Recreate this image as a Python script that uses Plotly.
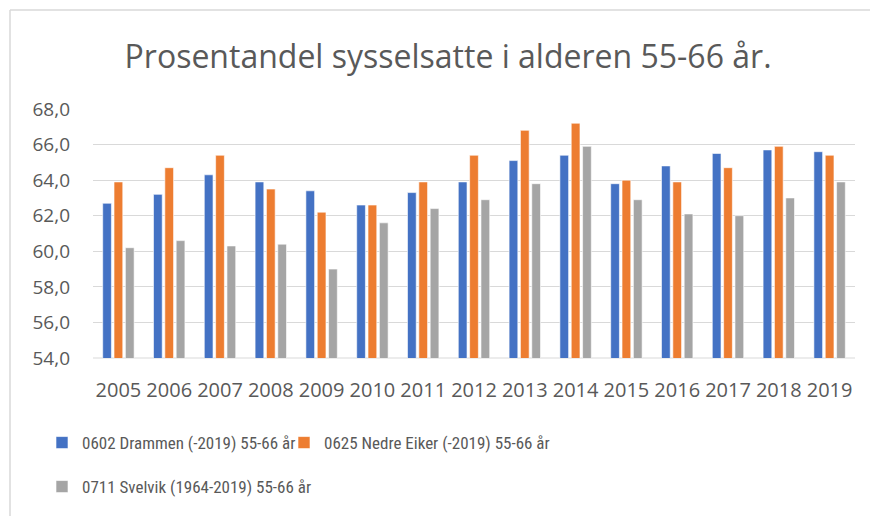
import plotly.graph_objects as go

years = [str(y) for y in range(2005, 2020)]
drammen = [62.7, 63.2, 64.3, 63.9, 63.4, 62.6, 63.3, 63.9, 65.1, 65.4, 63.8, 64.8, 65.5, 65.7, 65.6]
nedre_eiker = [63.9, 64.7, 65.4, 63.5, 62.2, 62.6, 63.9, 65.4, 66.8, 67.2, 64.0, 63.9, 64.7, 65.9, 65.4]
svelvik = [60.2, 60.6, 60.3, 60.4, 59.0, 61.6, 62.4, 62.9, 63.8, 65.9, 62.9, 62.1, 62.0, 63.0, 63.9]
names = ["0602 Drammen (-2019) 55-66 år", "0625 Nedre Eiker (-2019) 55-66 år", "0711 Svelvik (1964-2019) 55-66 år"]
colors = ["#4472C4", "#ED7D31", "#A5A5A5"]
y_ticks = [54, 56, 58, 60, 62, 64, 66, 68]

FONT = "Open Sans"
TXT = "#595959"
LEGFONT = dict(size=17, color=TXT, family="Liberation Sans Narrow, Roboto Condensed, Roboto")

fig = go.Figure()
for vals, name, col, lg in zip([drammen, nedre_eiker, svelvik], names, colors, ["legend", "legend2", "legend3"]):
    fig.add_trace(go.Bar(
        x=years, y=vals, name=name, legend=lg,
        marker=dict(color=col, line=dict(color="white", width=0.6)),
    ))

fig.update_layout(
    width=870, height=516,
    margin=dict(l=93, r=15, t=109, b=158),
    paper_bgcolor="white", plot_bgcolor="white",
    separators=",.",
    barmode="group", bargap=0.33, bargroupgap=0.23,
    font=dict(family=FONT, color=TXT, size=17),
    title=dict(text="Prosentandel sysselsatte i alderen 55-66 år.", x=0.515, xanchor="center",
               y=(516 - 57) / 516, yanchor="middle", font=dict(size=32, color=TXT, family=FONT)),
    xaxis=dict(showline=False, ticks="", tickfont=dict(size=20, color=TXT), showgrid=False,
               ticklabelstandoff=18),
    yaxis=dict(range=[54, 68], tickvals=y_ticks, tickformat=".1f", showgrid=True, gridcolor="#D9D9D9",
               gridwidth=1, zeroline=False, showline=False, ticks="", tickfont=dict(size=19, color=TXT),
               ticklabelstandoff=22),
    legend=dict(orientation="h", xref="container", yref="container", x=42 / 870, xanchor="left",
                y=1 - 443 / 516, yanchor="middle", font=LEGFONT, bgcolor="rgba(0,0,0,0)"),
    legend2=dict(orientation="h", xref="container", yref="container", x=284 / 870, xanchor="left",
                 y=1 - 443 / 516, yanchor="middle", font=LEGFONT, bgcolor="rgba(0,0,0,0)"),
    legend3=dict(orientation="h", xref="container", yref="container", x=42 / 870, xanchor="left",
                 y=1 - 487 / 516, yanchor="middle", font=LEGFONT, bgcolor="rgba(0,0,0,0)"),
    showlegend=True,
)
fig.add_shape(type="line", xref="paper", yref="paper", x0=0, x1=1, y0=0, y1=0,
              line=dict(color="#D9D9D9", width=1), layer="below")
# outer chart border (left and top edges visible)
fig.add_shape(type="line", xref="paper", yref="paper",
              x0=(10 - 93) / 762, x1=(10 - 93) / 762, y0=(516 - 158 - 530) / 249, y1=(516 - 158 - 10) / 249,
              line=dict(color="#D9D9D9", width=1.5), layer="below")
fig.add_shape(type="line", xref="paper", yref="paper",
              x0=(10 - 93) / 762, x1=(880 - 93) / 762, y0=(516 - 158 - 10) / 249, y1=(516 - 158 - 10) / 249,
              line=dict(color="#D9D9D9", width=1.5), layer="below")

fig.write_html("out.html", config={"displayModeBar": False},
               post_script="document.body.style.margin='0';document.body.style.overflow='hidden';")
